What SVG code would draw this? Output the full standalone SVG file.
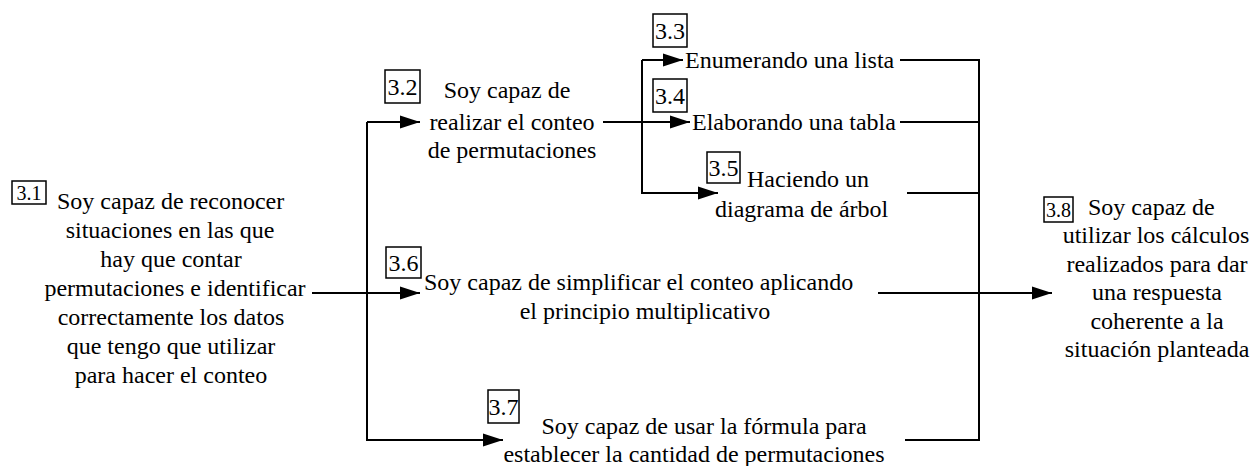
<svg xmlns="http://www.w3.org/2000/svg" width="1251" height="466" viewBox="0 0 1251 466">
<style>
text{font-family:"Liberation Serif","Times New Roman",serif;fill:#000}
.t{font-size:24px}
.m{text-anchor:middle}
.lb{font-size:24px;text-anchor:middle}
.ls{font-size:20px;text-anchor:middle}
.box{fill:#fff;stroke:#000;stroke-width:1.5}
.c{fill:none;stroke:#000;stroke-width:2}
</style>
<defs>
<marker id="ah" markerUnits="userSpaceOnUse" markerWidth="20" markerHeight="14" refX="20" refY="7" orient="auto">
<path d="M0,0.5 L20,7 L0,13.5 z" fill="#000"/>
</marker>
</defs>
<rect width="1251" height="466" fill="#fff"/>
<g id="connectors">
<path class="c" d="M312,293 H420" marker-end="url(#ah)"/>
<path class="c" d="M367,122 V440 H503" marker-end="url(#ah)"/>
<path class="c" d="M367,122 H420" marker-end="url(#ah)"/>
<path class="c" d="M603,122 H690" marker-end="url(#ah)"/>
<path class="c" d="M642,60 V193 H718" marker-end="url(#ah)"/>
<path class="c" d="M642,60 H683" marker-end="url(#ah)"/>
<path class="c" d="M900,60 H979 V440 H905"/>
<path class="c" d="M900,122 H979"/>
<path class="c" d="M907,193 H979"/>
<path class="c" d="M878,293 H1052" marker-end="url(#ah)"/>
</g>
<g id="n31">
<rect class="box" x="12" y="181" width="34" height="23"/>
<text class="ls" x="29" y="199.5">3.1</text>
<text class="t" x="57" y="209">Soy capaz de reconocer</text>
<text class="t m" x="170" y="238">situaciones en las que</text>
<text class="t m" x="171" y="267">hay que contar</text>
<text class="t m" x="175" y="296">permutaciones e identificar</text>
<text class="t m" x="171" y="325">correctamente los datos</text>
<text class="t m" x="171" y="354">que tengo que utilizar</text>
<text class="t m" x="171" y="383">para hacer el conteo</text>
</g>
<g id="n32">
<rect class="box" x="385" y="70" width="35" height="33"/>
<text class="lb" x="402.5" y="94.5">3.2</text>
<text class="t m" x="507" y="98">Soy capaz de</text>
<text class="t m" x="512" y="130">realizar el conteo</text>
<text class="t m" x="512" y="158">de permutaciones</text>
</g>
<g id="n33">
<rect class="box" x="653" y="14" width="34" height="33"/>
<text class="lb" x="670" y="38.5">3.3</text>
<text class="t" x="685" y="68">Enumerando una lista</text>
</g>
<g id="n34">
<rect class="box" x="653" y="79" width="34" height="33"/>
<text class="lb" x="670" y="103.5">3.4</text>
<text class="t" x="692" y="130">Elaborando una tabla</text>
</g>
<g id="n35">
<rect class="box" x="707" y="152" width="33" height="31"/>
<text class="lb" x="723.5" y="175.5">3.5</text>
<text class="t" x="747" y="187">Haciendo un</text>
<text class="t" x="715" y="217">diagrama de árbol</text>
</g>
<g id="n36">
<rect class="box" x="386" y="247" width="35" height="31"/>
<text class="lb" x="403.5" y="270.5">3.6</text>
<text class="t" x="424" y="290">Soy capaz de simplificar el conteo aplicando</text>
<text class="t m" x="645" y="319">el principio multiplicativo</text>
</g>
<g id="n37">
<rect class="box" x="488" y="390" width="31" height="33"/>
<text class="lb" x="503.5" y="414.5">3.7</text>
<text class="t m" x="704" y="434">Soy capaz de usar la fórmula para</text>
<text class="t m" x="694" y="462">establecer la cantidad de permutaciones</text>
</g>
<g id="n38">
<rect class="box" x="1044" y="197" width="29" height="25"/>
<text class="ls" x="1058.5" y="216.5">3.8</text>
<text class="t" x="1088" y="215">Soy capaz de</text>
<text class="t m" x="1156" y="243">utilizar los cálculos</text>
<text class="t m" x="1157" y="272">realizados para dar</text>
<text class="t m" x="1157" y="300">una respuesta</text>
<text class="t m" x="1157" y="329">coherente a la</text>
<text class="t m" x="1157" y="357">situación planteada</text>
</g>
</svg>
